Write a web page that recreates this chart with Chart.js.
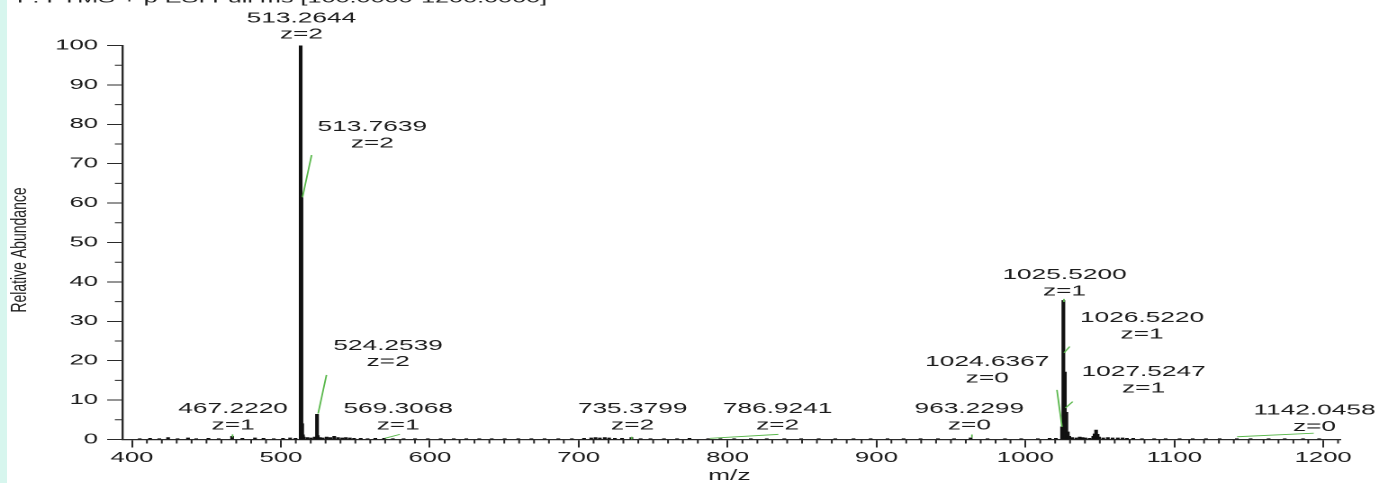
<!DOCTYPE html>
<html><head><meta charset="utf-8">
<script src="https://cdn.jsdelivr.net/npm/chart.js@4.4.1/dist/chart.umd.min.js"></script>
<style>
html,body{margin:0;padding:0;background:#fff;width:1379px;height:483px;overflow:hidden;}
#strip{position:absolute;left:0;top:0;width:7px;height:483px;background:#d7f6ee;}
#wrap{position:absolute;left:0;top:0;width:766px;height:483px;transform:scaleX(1.80026);transform-origin:0 0;}
</style></head><body>
<div id="strip"></div>
<div id="wrap"><canvas id="c" width="766" height="483"></canvas></div>
<script>
// ---- data ----
const peakMz = [513.2644, 513.7639, 514.2655, 514.7670, 524.2539, 524.7555,
  1024.6367, 1025.5200, 1026.5220, 1027.5247, 1028.5270,
  405.2, 412.1, 418.3, 424.2, 430.6, 437.6, 443.1, 451.3, 458.2, 467.2220, 474.1, 482.6, 488.3, 495.2,
  501.4, 506.2, 509.8, 515.3, 517.8, 520.2, 522.7, 526.3, 528.1, 530.7, 533.2, 535.8, 538.4, 541.2,
  543.6, 546.3, 549.1, 553.6, 558.2, 563.4, 569.3068, 575.2, 582.4, 590.1, 598.7, 607.3, 616.1, 624.5,
  633.2, 641.6, 650.3, 659.4, 668.2, 677.1, 686.3, 695.4, 703.6, 708.4, 711.3, 714.2, 717.5, 720.4,
  724.3, 729.1, 735.3799, 741.6, 748.2, 757.3, 766.1, 774.4, 786.9241, 795.2, 804.4, 815.6, 826.3,
  838.1, 849.4, 861.2, 872.3, 884.6, 896.1, 907.4, 918.2, 929.6, 941.3, 952.1, 963.2299, 974.6, 986.3,
  997.2, 1008.4, 1016.3, 1020.5, 1029.5, 1031.4, 1034.2, 1036.5, 1038.4, 1040.3, 1043.2, 1045.6,
  1046.5, 1047.5, 1048.5, 1049.5, 1052.3, 1055.4, 1058.6, 1062.1, 1065.3, 1068.2, 1072.4, 1078.3,
  1086.5, 1094.2, 1103.6, 1112.4, 1121.3, 1130.5, 1142.0458, 1151.3, 1163.4, 1174.2, 1186.5, 1197.3];
const peakAbundance = [100, 61.4, 4.0, 1.2, 6.4, 1.0,
  3.2, 35.3, 17.1, 6.9, 1.9,
  0.2, 0.3, 0.2, 0.5, 0.2, 0.4, 0.2, 0.3, 0.2, 0.8, 0.3, 0.4, 0.3, 0.2,
  0.3, 0.4, 0.3, 0.6, 0.5, 0.4, 0.6, 0.5, 0.4, 0.6, 0.5, 0.8, 0.5, 0.4,
  0.5, 0.4, 0.3, 0.3, 0.2, 0.3, 0.3, 0.2, 0.2, 0.2, 0.2, 0.2, 0.2, 0.2,
  0.2, 0.2, 0.2, 0.2, 0.2, 0.2, 0.2, 0.2, 0.3, 0.4, 0.5, 0.4, 0.5, 0.4,
  0.3, 0.3, 0.5, 0.2, 0.2, 0.2, 0.2, 0.3, 0.2, 0.2, 0.2, 0.2, 0.2,
  0.2, 0.2, 0.2, 0.2, 0.2, 0.2, 0.2, 0.2, 0.2, 0.2, 0.2, 0.4, 0.2, 0.2,
  0.2, 0.2, 0.3, 0.3, 0.8, 0.5, 0.4, 0.6, 0.5, 0.4, 0.3, 0.8,
  1.4, 2.4, 1.3, 0.6, 0.4, 0.5, 0.4, 0.4, 0.4, 0.3, 0.3, 0.2,
  0.2, 0.2, 0.2, 0.2, 0.2, 0.2, 0.2, 0.2, 0.2, 0.2, 0.2, 0.2];
const labelMass = ['513.2644','513.7639','524.2539','569.3068','467.2220','735.3799','786.9241',
  '963.2299','1024.6367','1025.5200','1026.5220','1027.5247','1142.0458'];
const labelCharge = ['z=2','z=2','z=2','z=1','z=1','z=2','z=2','z=0','z=0','z=1','z=1','z=1','z=0'];
const xTickValues = [400, 500, 600, 700, 800, 900, 1000, 1100, 1200];
const yTickValues = [0, 10, 20, 30, 40, 50, 60, 70, 80, 90, 100];
const headerText = 'F: FTMS + p ESI Full ms [100.0000-1200.0000]';
const xTitle = 'm/z';
const yTitle = 'Relative Abundance';

// ---- layout (label anchors and leader lines in data units) ----
const labelAt = [[513.8,106.9],[561.4,79.3],[572.0,23.8],[578.8,7.7],[467.9,7.7],[736.2,7.7],[833.6,7.7],
  [962.4,7.7],[974.4,19.7],[1026.3,41.7],[1078.4,30.8],[1079.4,17.1],[1194.2,7.4]];
const leaderLines = [[520.6,72.2,514.5,61.5],[530.6,16.4,525.0,6.6],[569.8,0.3,579.9,1.3],
  [467.5,1.3,467.5,0.55],[735.6,0.7,735.6,0.05],[788.2,0.3,834.1,1.3],[964.1,1.27,964.1,0.5],
  [1021.2,12.6,1024.6,3.2],[1025.9,35.7,1025.9,34.9],[1026.0,22.0,1029.8,23.6],
  [1026.9,8.0,1031.8,9.6],[1142.2,0.7,1193.7,1.6]];

const FONT = '"Liberation Sans", Arial, sans-serif';
const TXT = '#1c1c1c';

const decor = {
  id: 'decor',
  afterDraw(chart) {
    const ctx = chart.ctx, xs = chart.scales.x, ys = chart.scales.y, a = chart.chartArea;
    ctx.save();
    // minor ticks
    ctx.strokeStyle = '#2a2a2a'; ctx.lineWidth = 1;
    ctx.beginPath();
    for (let v = 5; v < 100; v += 10) {
      const py = ys.getPixelForValue(v);
      ctx.moveTo(a.left, py); ctx.lineTo(a.left - 4.2, py);
    }
    for (let v = 400; v <= xs.max; v += 10) {
      if (v % 100 === 0) continue;
      const px = xs.getPixelForValue(v);
      ctx.moveTo(px, a.bottom); ctx.lineTo(px, a.bottom + 4);
    }
    ctx.stroke();
    // leader lines
    ctx.strokeStyle = '#5ab84c'; ctx.lineWidth = 0.9;
    ctx.beginPath();
    leaderLines.forEach(l => {
      ctx.moveTo(xs.getPixelForValue(l[0]), ys.getPixelForValue(l[1]));
      ctx.lineTo(xs.getPixelForValue(l[2]), ys.getPixelForValue(l[3]));
    });
    ctx.stroke();
    // peak labels
    ctx.fillStyle = TXT; ctx.font = '14.6px ' + FONT;
    ctx.textAlign = 'center'; ctx.textBaseline = 'middle';
    labelMass.forEach((t, i) => {
      const px = xs.getPixelForValue(labelAt[i][0]);
      const py = ys.getPixelForValue(labelAt[i][1]);
      ctx.fillText(t, px, py);
      ctx.fillText(labelCharge[i], px, py + 16.4);
    });
    // x title
    ctx.font = '14.6px ' + FONT;
    ctx.fillText(xTitle, (xs.getPixelForValue(800) + 1), 476);
    // y title
    ctx.save();
    ctx.font = '14px ' + FONT;
    ctx.translate(11.1, 250);
    ctx.scale(0.88, 1);
    ctx.rotate(-Math.PI / 2);
    ctx.fillText(yTitle, 0, 0);
    ctx.restore();
    // header (cut off at top)
    ctx.font = '14px ' + FONT;
    ctx.textAlign = 'left'; ctx.textBaseline = 'alphabetic';
    ctx.fillText(headerText, 9.4, 2.5);
    ctx.restore();
  }
};

new Chart(document.getElementById('c'), {
  type: 'bar',
  data: { datasets: [{
    data: peakMz.map((x, i) => ({ x: x, y: peakAbundance[i] })),
    backgroundColor: '#111', borderWidth: 0, barThickness: 1.4, grouped: false
  }]},
  options: {
    responsive: false, animation: false, devicePixelRatio: 2,
    layout: { padding: { top: 45.5, right: 21.6, left: 0, bottom: 0 } },
    plugins: { legend: { display: false }, tooltip: { enabled: false }, title: { display: false } },
    scales: {
      x: {
        type: 'linear', min: 393.55, max: 1211.4, offset: false,
        afterFit(s) { s.height = 43.5; },
        afterBuildTicks(s) { s.ticks = xTickValues.map(v => ({ value: v })); },
        grid: { display: true, drawOnChartArea: false, drawTicks: true, tickLength: 8, offset: false, color: '#2a2a2a', tickColor: '#2a2a2a', tickWidth: 1 },
        border: { display: true, color: '#2a2a2a', width: 1.2 },
        ticks: { font: { family: FONT, size: 14.3 }, color: TXT, padding: 2, maxRotation: 0, autoSkip: false,
                 callback: v => String(v) }
      },
      y: {
        min: 0, max: 100,
        afterFit(s) { s.width = 68; },
        afterBuildTicks(s) { s.ticks = yTickValues.map(v => ({ value: v })); },
        grid: { display: true, drawOnChartArea: false, drawTicks: true, tickLength: 8.5, color: '#2a2a2a', tickColor: '#2a2a2a', tickWidth: 1 },
        border: { display: true, color: '#2a2a2a', width: 1.2 },
        ticks: { font: { family: FONT, size: 14.3 }, color: TXT, padding: 5, autoSkip: false,
                 callback: v => String(v) }
      }
    }
  },
  plugins: [decor]
});
</script>
</body></html>
